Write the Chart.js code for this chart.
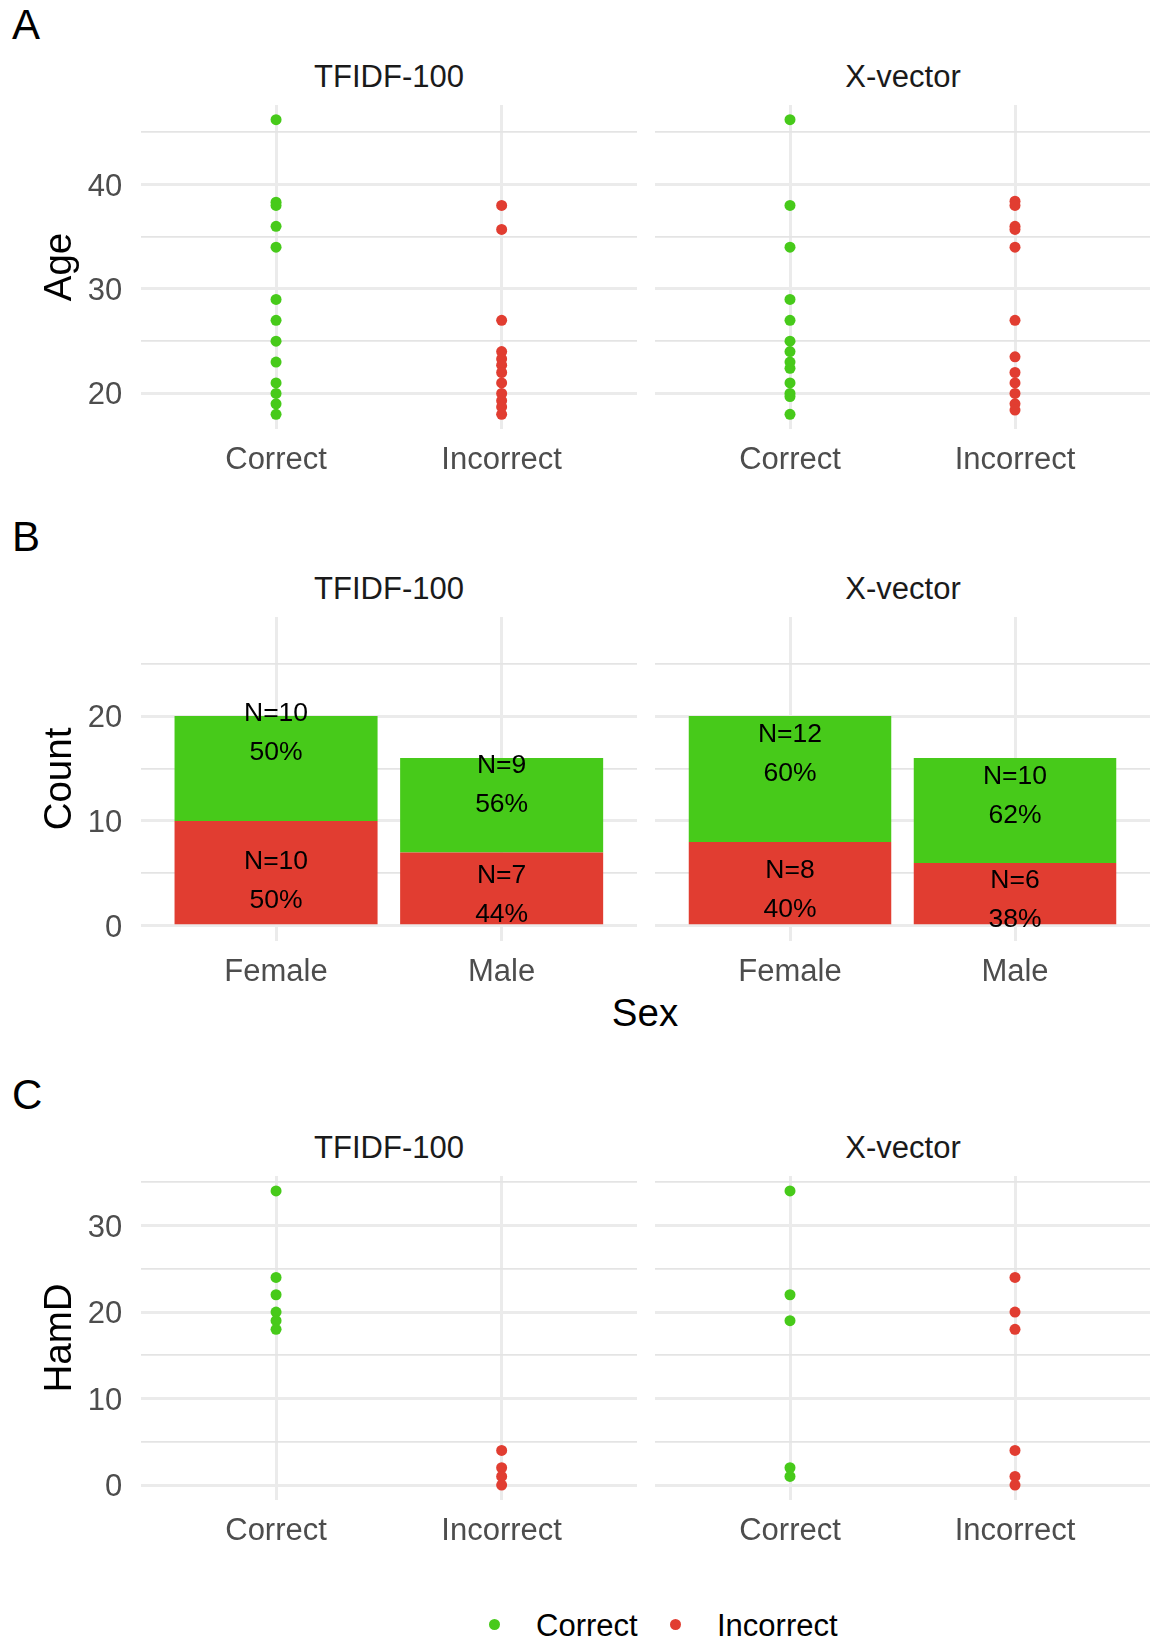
<!DOCTYPE html>
<html>
<head>
<meta charset="utf-8">
<script src="https://cdn.jsdelivr.net/npm/chart.js@4.4.1/dist/chart.umd.min.js"></script>
<style>
  body { margin: 0; background: #fff; font-family: "Liberation Sans", Arial, sans-serif; }
  #fig { position: relative; width: 1151px; height: 1648px; overflow: hidden; }
  .box { position: absolute; }
  .txt { position: absolute; white-space: nowrap; line-height: 1; }
  .tag { font-size: 42px; color: #000; left: 12px; }
  .strip { font-size: 31px; color: #1A1A1A; transform: translateX(-50%); }
  .dot { position: absolute; width: 11px; height: 11px; border-radius: 50%; }
</style>
</head>
<body>
<div id="fig">
  <div class="txt tag" style="top:4px">A</div>
  <div class="txt tag" style="top:516px">B</div>
  <div class="txt tag" style="top:1074px">C</div>

  <div class="txt strip" style="left:389px;top:60.5px">TFIDF-100</div>
  <div class="txt strip" style="left:903px;top:60.5px">X-vector</div>
  <div class="txt strip" style="left:389px;top:573px">TFIDF-100</div>
  <div class="txt strip" style="left:903px;top:573px">X-vector</div>
  <div class="txt strip" style="left:389px;top:1132px">TFIDF-100</div>
  <div class="txt strip" style="left:903px;top:1132px">X-vector</div>

  <div class="box" style="left:0;top:105px;width:637px;height:374px"><canvas id="ageTfidf"></canvas></div>
  <div class="box" style="left:655px;top:105px;width:495px;height:374px"><canvas id="ageXvec"></canvas></div>
  <div class="box" style="left:0;top:617px;width:637px;height:374px"><canvas id="sexTfidf"></canvas></div>
  <div class="box" style="left:655px;top:617px;width:495px;height:374px"><canvas id="sexXvec"></canvas></div>
  <div class="box" style="left:0;top:1176px;width:637px;height:374px"><canvas id="hamdTfidf"></canvas></div>
  <div class="box" style="left:655px;top:1176px;width:495px;height:374px"><canvas id="hamdXvec"></canvas></div>

  <div class="txt" style="font-size:38.5px;color:#000;left:645px;top:994px;transform:translateX(-50%)">Sex</div>

  <div class="dot" style="left:489px;top:1619px;background:#47CA1A"></div>
  <div class="txt" style="font-size:31px;color:#000;left:536px;top:1609.5px">Correct</div>
  <div class="dot" style="left:670px;top:1619px;background:#E13D31"></div>
  <div class="txt" style="font-size:31px;color:#000;left:717px;top:1609.5px">Incorrect</div>
</div>
<script>
'use strict';

// Datos
const groups = ['Correct', 'Incorrect'];
const sexes = ['Female', 'Male'];

const ageTfidfCorrect = [46.2, 38.3, 38, 36, 34, 29, 27, 25, 23, 21, 20, 19, 18];
const ageTfidfIncorrect = [38, 35.7, 27, 24, 23.3, 22.7, 22, 21, 20, 19.3, 18.7, 18];
const ageXvecCorrect = [46.2, 38, 34, 29, 27, 25, 24, 23, 22.4, 21, 20, 19.7, 18];
const ageXvecIncorrect = [38.4, 38, 36, 35.7, 34, 27, 23.5, 22, 21, 20, 19, 18.4];

const countTfidfCorrect = [10, 9];
const countTfidfIncorrect = [10, 7];
const countXvecCorrect = [12, 10];
const countXvecIncorrect = [8, 6];
const pctTfidfCorrect = [50, 56];
const pctTfidfIncorrect = [50, 44];
const pctXvecCorrect = [60, 62];
const pctXvecIncorrect = [40, 38];
// centro de cada etiqueta (en unidades de Count)
const labelYTfidfCorrect = [18.4, 13.4];
const labelYTfidfIncorrect = [4.3, 2.9];
const labelYXvecCorrect = [16.4, 12.4];
const labelYXvecIncorrect = [3.4, 2.4];

const hamdTfidfCorrect = [34, 24, 22, 20, 19, 18];
const hamdTfidfIncorrect = [4, 2, 1, 0];
const hamdXvecCorrect = [34, 22, 19, 2, 1];
const hamdXvecIncorrect = [24, 20, 18, 4, 1, 0];

const ageTicks = [20, 25, 30, 35, 40, 45];
const countTicks = [0, 5, 10, 15, 20, 25];
const hamdTicks = [0, 5, 10, 15, 20, 25, 30, 35];
const ageRange = [16.59, 47.61];
const countRange = [-1.45, 29.45];
const hamdRange = [-1.73, 35.73];

const GREEN = '#47CA1A';
const RED = '#E13D31';
const FAMILY = '"Liberation Sans", Arial, sans-serif';

Chart.defaults.font.family = FAMILY;
Chart.defaults.animation = false;

function xScale(cats, stacked) {
  return {
    type: 'linear', min: 0.4, max: 2.6, stacked: stacked, offset: false,
    afterBuildTicks: s => { s.ticks = cats.map((c, i) => ({ value: i + 1 })); },
    ticks: {
      callback: v => cats[v - 1], font: { size: 31 }, color: '#4D4D4D',
      padding: 12.5, maxRotation: 0, autoSkip: false
    },
    grid: { color: '#EBEBEB', lineWidth: 3, drawTicks: false, offset: false },
    border: { display: false },
    afterFit: s => { s.height = 50; s.paddingLeft = 0; s.paddingRight = 0; }
  };
}

function yScale(range, tickVals, title, left, stacked) {
  return {
    min: range[0], max: range[1], stacked: stacked,
    afterBuildTicks: s => { s.ticks = tickVals.map(v => ({ value: v })); },
    ticks: {
      display: left, callback: v => (v % 10 === 0 ? String(v) : ''),
      font: { size: 31 }, color: '#4D4D4D', padding: 18.5, labelOffset: 2.5
    },
    grid: {
      color: ctx => (ctx.tick && ctx.tick.value % 10 === 0 ? '#EBEBEB' : '#E4E4E4'),
      lineWidth: ctx => (ctx.tick && ctx.tick.value % 10 === 0 ? 3 : 1.8),
      drawTicks: false
    },
    border: { display: false },
    title: { display: left, text: title, color: '#000', font: { size: 38.5 }, padding: { top: 37, bottom: 0 } },
    afterFit: s => { s.width = left ? 140.7 : 0; s.paddingTop = 0; s.paddingBottom = 0; }
  };
}

const baseOptions = {
  responsive: true,
  maintainAspectRatio: false,
  layout: { padding: 0, autoPadding: false },
  plugins: { legend: { display: false }, tooltip: { enabled: false } }
};

function dotChart(id, correct, incorrect, range, tickVals, title, left) {
  new Chart(document.getElementById(id), {
    type: 'scatter',
    data: {
      datasets: [
        { label: groups[0], data: correct.map(v => ({ x: 1, y: v })), backgroundColor: GREEN },
        { label: groups[1], data: incorrect.map(v => ({ x: 2, y: v })), backgroundColor: RED }
      ]
    },
    options: Object.assign({}, baseOptions, {
      elements: { point: { radius: 5.5, borderWidth: 0, hoverRadius: 5.5 } },
      scales: { x: xScale(groups, false), y: yScale(range, tickVals, title, left, false) }
    })
  });
}

function barChart(id, cCounts, iCounts, cPct, iPct, cLabY, iLabY, left) {
  const barText = {
    id: 'barText',
    afterDatasetsDraw(chart) {
      const { ctx, scales: { x, y } } = chart;
      ctx.save();
      ctx.font = '26.5px ' + FAMILY;
      ctx.fillStyle = '#000';
      ctx.textAlign = 'center';
      ctx.textBaseline = 'middle';
      const segs = [[iCounts, iPct, iLabY], [cCounts, cPct, cLabY]];
      segs.forEach(([n, p, ly]) => {
        sexes.forEach((s, i) => {
          const px = x.getPixelForValue(i + 1);
          const py = y.getPixelForValue(ly[i]);
          ctx.fillText('N=' + n[i], px, py - 19.5);
          ctx.fillText(p[i] + '%', px, py + 19.5);
        });
      });
      ctx.restore();
    }
  };

  new Chart(document.getElementById(id), {
    type: 'bar',
    data: {
      datasets: [
        { label: groups[1], data: iCounts.map((v, i) => ({ x: i + 1, y: v })), backgroundColor: RED },
        { label: groups[0], data: cCounts.map((v, i) => ({ x: i + 1, y: v })), backgroundColor: GREEN }
      ]
    },
    options: Object.assign({}, baseOptions, {
      datasets: { bar: { barPercentage: 0.9, categoryPercentage: 1, borderWidth: 0 } },
      scales: { x: xScale(sexes, true), y: yScale(countRange, countTicks, 'Count', left, true) }
    }),
    plugins: [barText]
  });
}

dotChart('ageTfidf', ageTfidfCorrect, ageTfidfIncorrect, ageRange, ageTicks, 'Age', true);
dotChart('ageXvec', ageXvecCorrect, ageXvecIncorrect, ageRange, ageTicks, 'Age', false);

barChart('sexTfidf', countTfidfCorrect, countTfidfIncorrect, pctTfidfCorrect, pctTfidfIncorrect,
  labelYTfidfCorrect, labelYTfidfIncorrect, true);
barChart('sexXvec', countXvecCorrect, countXvecIncorrect, pctXvecCorrect, pctXvecIncorrect,
  labelYXvecCorrect, labelYXvecIncorrect, false);

dotChart('hamdTfidf', hamdTfidfCorrect, hamdTfidfIncorrect, hamdRange, hamdTicks, 'HamD', true);
dotChart('hamdXvec', hamdXvecCorrect, hamdXvecIncorrect, hamdRange, hamdTicks, 'HamD', false);
</script>
</body>
</html>
